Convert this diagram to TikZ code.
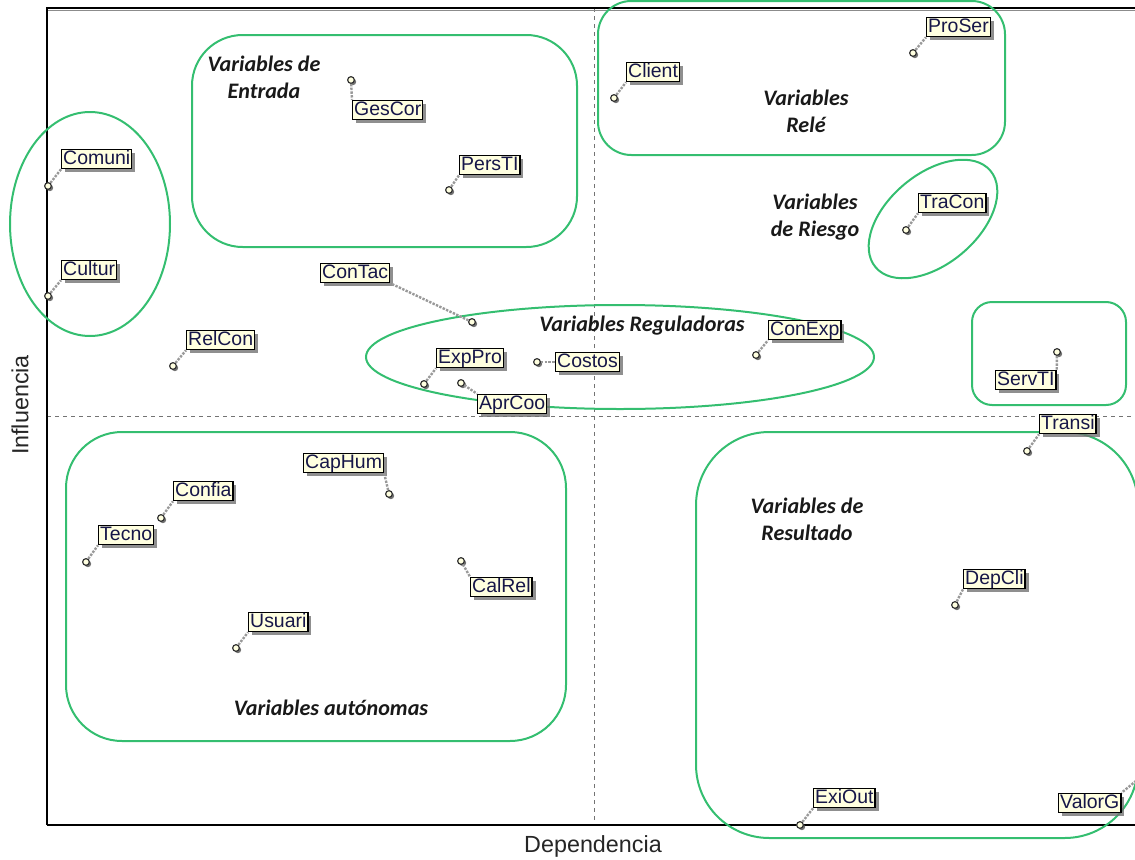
\documentclass[tikz,border=0pt]{standalone}
\usepackage{fontspec}
\setmainfont{Liberation Sans}
\newfontfamily\grpfont{Carlito}
\usetikzlibrary{shadows}
\definecolor{grp}{RGB}{52,190,112}
\definecolor{cream}{RGB}{255,255,224}
\definecolor{lbltext}{RGB}{22,22,72}
\tikzset{
  lbl/.style={draw=black, line width=1.1pt, fill=cream, text=lbltext,
    font=\fontsize{14.6}{14.6}\selectfont, inner xsep=1.1pt, inner ysep=0.5pt,
    text height=10.6pt, text depth=2.7pt, anchor=west,
    drop shadow={shadow xshift=2.6pt, shadow yshift=-2.6pt, fill=black!55, opacity=0.8}},
  mk/.style={circle, draw=black!80, fill=cream, line width=0.9pt, minimum size=5pt, inner sep=0pt,
    drop shadow={shadow xshift=1.4pt, shadow yshift=-1.4pt, fill=black!65, opacity=0.85}},
  leader/.style={draw=black!40, densely dotted, line width=1.8pt},
  grpline/.style={draw=grp, line width=1.5pt},
  grplabel/.style={font=\grpfont\bfseries\itshape\fontsize{16.6}{20}\selectfont, align=center, text=black!90},
  axislabel/.style={font=\fontsize{17.5}{20}\selectfont, text=black!85},
}
\begin{document}
\begin{tikzpicture}[x=0.75pt, y=-0.75pt]
\useasboundingbox (0,0) rectangle (1135,860);
\clip (0,0) rectangle (1135,860);

% quadrant dividers
\draw[dashed, black!55, line width=0.6pt] (594,8) -- (594,825);
\draw[dashed, black!55, line width=0.6pt] (47,416) -- (1135,416);

% frame
\draw[black!45, line width=1.2pt] (48,10.5) -- (1135,10.5);
\draw[black, line width=1.3pt] (47,825) -- (47,8) -- (1135,8);
\draw[black, line width=1.3pt] (47,825) -- (1135,825);

% axis titles
\node[axislabel] (xlab) at (593,846) {Dependencia};
\node[axislabel, rotate=90] (ylab) at (20,405) {Influencia};

% variable groups
\draw[grpline] (90,224) ellipse [x radius=80, y radius=112];
\draw[grpline, rounded corners=38] (192,35) rectangle (577,247);
\draw[grpline, rounded corners=25] (598,1) rectangle (1005,155);
\draw[grpline, rotate around={40:(933,219)}] (933,219) ellipse [x radius=75, y radius=45];
\draw[grpline] (620,357) ellipse [x radius=254, y radius=52];
\draw[grpline, rounded corners=15] (972,302) rectangle (1126,405);
\draw[grpline, rounded corners=42] (66,432) rectangle (566,741);
\draw[grpline, rounded corners=55] (696,432) rectangle (1138,838);

\node[grplabel] (gEntrada) at (264,77) {Variables de\\Entrada};
\node[grplabel] (gRele) at (806,111) {Variables\\Relé};
\node[grplabel] (gRiesgo) at (815,217) {Variables\\de Riesgo};
\node[grplabel] (gReg) at (642,326) {Variables Reguladoras};
\node[grplabel] (gRes) at (807,519) {Variables de\\Resultado};
\node[grplabel] (gAut) at (331,708) {Variables autónomas};

% variable markers
\node[mk] (mComuni) at (48,186) {};
\node[mk] (mCultur) at (48,296) {};
\node[mk] (mGesCor) at (351,80) {};
\node[mk] (mPersTI) at (449,190) {};
\node[mk] (mClient) at (614,98) {};
\node[mk] (mProSer) at (913,53) {};
\node[mk] (mTraCon) at (906,230) {};
\node[mk] (mConTac) at (472,322) {};
\node[mk] (mRelCon) at (173,366) {};
\node[mk] (mExpPro) at (424,384) {};
\node[mk] (mCostos) at (537,362) {};
\node[mk] (mAprCoo) at (461,383) {};
\node[mk] (mConExp) at (756,355) {};
\node[mk] (mServTI) at (1057,352) {};
\node[mk] (mTransi) at (1027,451) {};
\node[mk] (mCapHum) at (389,494) {};
\node[mk] (mConfia) at (161,518) {};
\node[mk] (mTecno) at (86,562) {};
\node[mk] (mCalRel) at (461,561) {};
\node[mk] (mUsuari) at (236,648) {};
\node[mk] (mDepCli) at (955,605) {};
\node[mk] (mExiOut) at (800,825) {};
\coordinate (mValorG) at (1142,776);

% variable labels
\node[lbl] (Comuni) at (61,159) {Comuni};
\node[lbl] (Cultur) at (61,270) {Cultur};
\node[lbl] (GesCor) at (352,110) {GesCor};
\node[lbl] (PersTI) at (459,165) {PersTI};
\node[lbl] (Client) at (626,72) {Client};
\node[lbl] (ProSer) at (926,27) {ProSer};
\node[lbl] (TraCon) at (918,203) {TraCon};
\node[lbl] (ConTac) at (320,273) {ConTac};
\node[lbl] (RelCon) at (186,340) {RelCon};
\node[lbl] (ExpPro) at (436,358) {ExpPro};
\node[lbl] (Costos) at (555,362) {Costos};
\node[lbl] (AprCoo) at (477,404) {AprCoo};
\node[lbl] (ConExp) at (768,330) {ConExp};
\node[lbl] (ServTI) at (995,380) {ServTI};
\node[lbl] (Transi) at (1039,424) {Transi};
\node[lbl] (CapHum) at (303,463) {CapHum};
\node[lbl] (Confia) at (173,491) {Confia};
\node[lbl] (Tecno) at (98,535) {Tecno};
\node[lbl] (CalRel) at (470,587) {CalRel};
\node[lbl] (Usuari) at (248,622) {Usuari};
\node[lbl] (DepCli) at (963,579) {DepCli};
\node[lbl] (ExiOut) at (813,798) {ExiOut};
\node[lbl] (ValorG) at (1058,803) {ValorG};

% leaders from markers to labels
\draw[leader] (mComuni) -- (Comuni.south west);
\draw[leader] (mCultur) -- (Cultur.south west);
\draw[leader] (mGesCor) -- (GesCor.north west);
\draw[leader] (mPersTI) -- (PersTI.south west);
\draw[leader] (mClient) -- (Client.south west);
\draw[leader] (mProSer) -- (ProSer.south west);
\draw[leader] (mTraCon) -- (TraCon.south west);
\draw[leader] (mConTac) -- (ConTac.south east);
\draw[leader] (mRelCon) -- (RelCon.south west);
\draw[leader] (mExpPro) -- (ExpPro.south west);
\draw[leader] (mCostos) -- (Costos.west);
\draw[leader] (mAprCoo) -- (AprCoo.north west);
\draw[leader] (mConExp) -- (ConExp.south west);
\draw[leader] (mServTI) -- (ServTI.north east);
\draw[leader] (mTransi) -- (Transi.south west);
\draw[leader] (mCapHum) -- (CapHum.south east);
\draw[leader] (mConfia) -- (Confia.south west);
\draw[leader] (mTecno) -- (Tecno.south west);
\draw[leader] (mCalRel) -- (CalRel.north west);
\draw[leader] (mUsuari) -- (Usuari.south west);
\draw[leader] (mDepCli) -- (DepCli.south west);
\draw[leader] (mExiOut) -- (ExiOut.south west);
\draw[leader] (mValorG) -- (ValorG.north east);
\end{tikzpicture}
\end{document}
